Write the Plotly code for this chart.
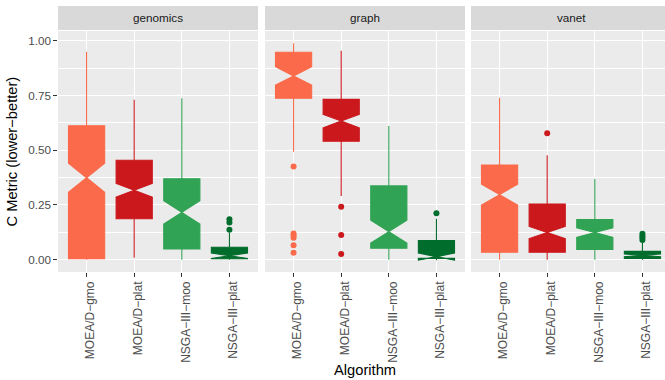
import plotly.graph_objects as go

algorithms = ["MOEA/D−gmo", "MOEA/D−plat", "NSGA−III−moo", "NSGA−III−plat"]
problems = ["genomics", "graph", "vanet"]
colors = ["#FB6A4A", "#CB181D", "#31A354", "#006D2C"]

# per-problem box statistics, in algorithm order
lowerfence = {
    "genomics": [0.0, 0.009, 0.0, 0.0],
    "graph":    [0.493, 0.291, 0.0, 0.0],
    "vanet":    [0.0, 0.0, 0.0, 0.0],
}
q1 = {
    "genomics": [0.005, 0.187, 0.049, 0.004],
    "graph":    [0.737, 0.541, 0.052, 0.006],
    "vanet":    [0.034, 0.034, 0.047, 0.006],
}
median = {
    "genomics": [0.374, 0.317, 0.216, 0.018],
    "graph":    [0.839, 0.633, 0.128, 0.014],
    "vanet":    [0.297, 0.124, 0.124, 0.020],
}
q3 = {
    "genomics": [0.612, 0.454, 0.370, 0.057],
    "graph":    [0.947, 0.732, 0.337, 0.087],
    "vanet":    [0.432, 0.254, 0.183, 0.038],
}
upperfence = {
    "genomics": [0.950, 0.730, 0.737, 0.123],
    "graph":    [0.988, 0.954, 0.610, 0.187],
    "vanet":    [0.740, 0.477, 0.368, 0.078],
}
notchspan = {
    "genomics": [0.066, 0.031, 0.053, 0.012],
    "graph":    [0.042, 0.031, 0.052, 0.016],
    "vanet":    [0.048, 0.028, 0.022, 0.006],
}
outliers = {
    "genomics": [[], [], [], [0.185, 0.170, 0.137]],
    "graph":    [[0.425, 0.120, 0.110, 0.100, 0.066, 0.032], [0.242, 0.113, 0.026], [], [0.212]],
    "vanet":    [[], [0.577], [], [0.118, 0.108, 0.100, 0.090]],
}

y_ticks = [0.0, 0.25, 0.5, 0.75, 1.0]
y_ticktext = ["0.00", "0.25", "0.50", "0.75", "1.00"]

W, H = 665, 380
ML, MR, MT, MB = 58, 0, 31, 108
PW = W - ML - MR
PH = H - MT - MB
panel_px = [(58, 258), (265, 465), (471, 665)]
strip_center_px = [158, 365, 571]

def px2x(p):
    return (p - ML) / PW

def px2y(p):
    return (H - MB - p) / PH

fig = go.Figure()
FONT = "Liberation Sans, Arial, sans-serif"

for pi, prob in enumerate(problems):
    xa = "x" if pi == 0 else f"x{pi+1}"
    ya = "y" if pi == 0 else f"y{pi+1}"
    for ai, alg in enumerate(algorithms):
        c = colors[ai]
        fig.add_trace(go.Box(
            x=[alg], q1=[q1[prob][ai]], median=[median[prob][ai]], q3=[q3[prob][ai]],
            lowerfence=[lowerfence[prob][ai]], upperfence=[upperfence[prob][ai]],
            notchspan=[notchspan[prob][ai]], notched=True, notchwidth=0.5,
            boxpoints=False, whiskerwidth=0, width=0.76,
            line=dict(color=c, width=1.07), fillcolor=c,
            xaxis=xa, yaxis=ya, showlegend=False, hoverinfo="skip",
        ))
        if outliers[prob][ai]:
            fig.add_trace(go.Scatter(
                x=[alg] * len(outliers[prob][ai]), y=outliers[prob][ai], mode="markers",
                marker=dict(color=c, size=6, line=dict(width=0)),
                xaxis=xa, yaxis=ya, showlegend=False, hoverinfo="skip", cliponaxis=False,
            ))

yrange = [-0.0562, 1.0443]
layout = dict(
    width=W, height=H, margin=dict(l=ML, r=MR, t=MT, b=MB),
    paper_bgcolor="white", plot_bgcolor="#EBEBEB",
    font=dict(family=FONT, color="#4D4D4D", size=11.7),
    showlegend=False,
)
for pi in range(3):
    xk = "xaxis" if pi == 0 else f"xaxis{pi+1}"
    yk = "yaxis" if pi == 0 else f"yaxis{pi+1}"
    x0, x1 = panel_px[pi]
    xr_hi = -0.6 + (x1 - x0) / 47.62
    layout[xk] = dict(
        domain=[px2x(x0), px2x(x1)], range=[-0.6, xr_hi], type="category",
        categoryorder="array", categoryarray=algorithms,
        anchor="y" if pi == 0 else f"y{pi+1}",
        showgrid=True, gridcolor="white", gridwidth=1.07, zeroline=False,
        ticks="outside", ticklen=3.7, tickwidth=1.07, tickcolor="#333333",
        tickangle=-90, tickfont=dict(size=12, color="#4D4D4D", family=FONT),
        ticklabelshift=4, ticklabelstandoff=0,
        showline=False, fixedrange=True,
    )
    yd = dict(
        domain=[0, 1], range=yrange, anchor="x" if pi == 0 else f"x{pi+1}",
        tickvals=y_ticks, ticktext=y_ticktext,
        showgrid=True, gridcolor="white", gridwidth=1.07, zeroline=False,
        minor=dict(tickvals=[0.125, 0.375, 0.625, 0.875], showgrid=True,
                   gridcolor="white", gridwidth=0.53, ticks=""),
        showline=False, fixedrange=True,
    )
    if pi == 0:
        yd.update(ticks="outside", ticklen=3.7, tickwidth=1.07, tickcolor="#333333",
                  tickfont=dict(size=11.7, color="#4D4D4D", family=FONT))
    else:
        yd.update(showticklabels=False, ticks="", matches="y")
    layout[yk] = yd

shapes = []
annotations = []
for pi, prob in enumerate(problems):
    x0, x1 = panel_px[pi]
    shapes.append(dict(type="rect", xref="paper", yref="paper",
                       x0=px2x(x0), x1=px2x(x1), y0=px2y(30), y1=px2y(6),
                       fillcolor="#D9D9D9", line=dict(width=0), layer="below"))
    annotations.append(dict(text=prob, xref="paper", yref="paper",
                            x=px2x(strip_center_px[pi]), y=px2y(18),
                            xanchor="center", yanchor="middle", showarrow=False,
                            font=dict(size=11.7, color="#1A1A1A", family=FONT)))

annotations.append(dict(text="Algorithm", xref="paper", yref="paper",
                        x=px2x(364.5), y=px2y(370), xanchor="center", yanchor="middle",
                        showarrow=False, font=dict(size=14.7, color="black", family=FONT)))
annotations.append(dict(text="C Metric (lower−better)", xref="paper", yref="paper",
                        x=px2x(11), y=px2y(151.5), xanchor="center", yanchor="middle",
                        textangle=-90, showarrow=False,
                        font=dict(size=14.7, color="black", family=FONT)))
layout["shapes"] = shapes
layout["annotations"] = annotations

fig.update_layout(**layout)
fig.write_html("out.html", config={"displayModeBar": False})
